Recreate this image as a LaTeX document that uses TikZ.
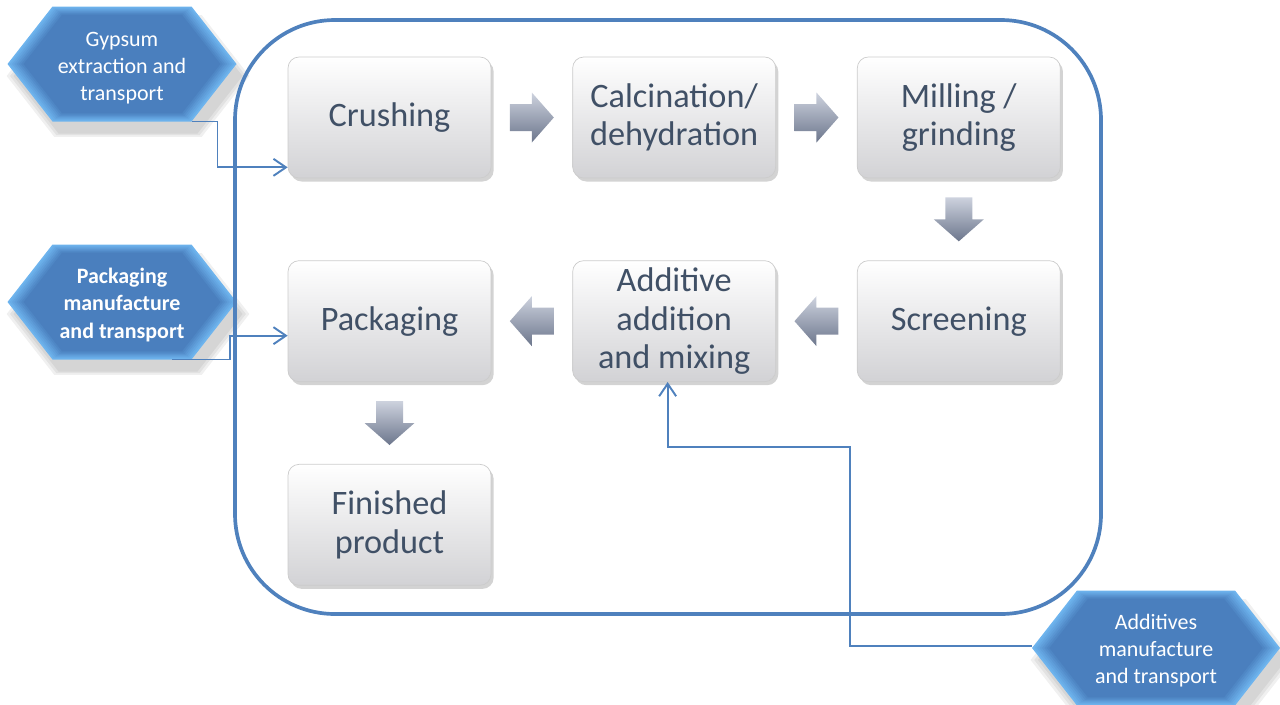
\documentclass[tikz,border=0pt]{standalone}
\usepackage{fontspec}
\setmainfont{Carlito}
\usetikzlibrary{positioning,calc,shadows,backgrounds,arrows.meta}
\definecolor{frameblue}{RGB}{79,129,189}
\definecolor{hexmain}{RGB}{74,127,190}
\definecolor{hexlight}{RGB}{110,180,238}
\definecolor{boxtext}{RGB}{64,80,102}
\definecolor{boxbottom}{RGB}{210,210,213}
\definecolor{arrowlight}{RGB}{205,210,222}
\definecolor{arrowmid}{RGB}{150,158,178}
\definecolor{arrowdark}{RGB}{108,118,140}

% bevelled hexagon round a point: #1 centre, #2 half width
\newcommand{\hexfill}[2]{%
  \begin{scope}[shift={(#1)}]
    \foreach \s in {1.00,1.03,1.06}
      \fill[black,opacity=0.06,shift={(6,12)},scale=\s]
        (-#2,0) -- ({-#2+45},-57.5) -- ({#2-45},-57.5) -- (#2,0) -- ({#2-45},57.5) -- ({-#2+45},57.5) -- cycle;
    \foreach \k in {0,...,7}{
      \pgfmathtruncatemacro{\p}{\k*100/7}
      \pgfmathsetmacro{\sc}{1-0.02*\k}
      \fill[hexmain!\p!hexlight,scale=\sc]
        (-#2,0) -- ({-#2+45},-57.5) -- ({#2-45},-57.5) -- (#2,0) -- ({#2-45},57.5) -- ({-#2+45},57.5) -- cycle;
    }
  \end{scope}}

\tikzset{
  procbox/.style={rectangle, rounded corners=0.22cm, draw=gray!40, line width=0.4pt,
    top color=white, bottom color=boxbottom, minimum width=4.06cm, minimum height=2.42cm,
    align=center, text=boxtext, font=\fontsize{19.5}{22}\selectfont,
    drop shadow={opacity=0.35, shadow xshift=1.5pt, shadow yshift=-2pt}},
  hexlabel/.style={text=white, align=center, font=\fontsize{12.5}{15.4}\selectfont, inner sep=0},
  feed/.style={draw=frameblue, line width=1.1pt, -{Straight Barb[length=0.25cm,width=0.34cm]}},
  blockarr/.pic={\shade[top color=arrowlight, middle color=arrowmid, bottom color=arrowdark]
    (-22,-13.5) -- (0,-13.5) -- (0,-25) -- (22,0) -- (0,25) -- (0,13.5) -- (-22,13.5) -- cycle;}
}

\begin{document}
\begin{tikzpicture}[x=0.02cm, y=-0.02cm, node distance=1.64cm and 1.62cm]
\useasboundingbox (0,0) rectangle (1280,704);

% external inputs
\coordinate (gypc) at (122,64);
\coordinate (pkhc) at (122,302);
\coordinate (adhc) at (1156,648);
\begin{scope}[on background layer]
\hexfill{gypc}{114.5}
\hexfill{pkhc}{114.5}
\hexfill{adhc}{124}
\end{scope}
\node[hexlabel] (gyp) at ($(gypc)+(0,4)$) {Gypsum\\extraction and\\transport};
\node[hexlabel, font=\fontsize{12.5}{15.4}\selectfont\bfseries] (pkh) at ($(pkhc)+(0,3)$) {Packaging\\manufacture\\and transport};
\node[hexlabel] (adh) at ($(adhc)+(0,3)$) {Additives\\manufacture\\and transport};

% system boundary
\draw[frameblue, line width=2.1pt, rounded corners=2cm] (235,20) rectangle (1101,614);

% process steps
\node[procbox] (crush) at (389.5,117.5) {Crushing};
\node[procbox, right=of crush] (calc) {Calcination/\\dehydration};
\node[procbox, right=of calc] (mill) {Milling /\\grinding};
\node[procbox, below=of mill] (screen) {Screening};
\node[procbox, left=of screen] (addit) {Additive\\addition\\and mixing};
\node[procbox, left=of addit] (pack) {Packaging};
\node[procbox, below=of pack] (fin) {Finished\\product};

% flow arrows
\pic at ($(crush.east)!0.5!(calc.west)$) {blockarr};
\pic at ($(calc.east)!0.5!(mill.west)$) {blockarr};
\pic[rotate=-90] at ($(mill.south)!0.5!(screen.north)$) {blockarr};
\pic[rotate=180] at ($(screen.west)!0.5!(addit.east)$) {blockarr};
\pic[rotate=180] at ($(addit.west)!0.5!(pack.east)$) {blockarr};
\pic[rotate=-90] at ($(pack.south)!0.5!(fin.north)$) {blockarr};

% inputs into the system
\coordinate (gin) at ($(crush.south west)+(0,-11)$);
\coordinate (pin) at ($(pack.west)+(0,14.5)$);
\draw[feed] ($(gypc)+(69.5,57.5)$) -- ++(26,0) |- (gin);
\draw[feed] ($(pkhc)+(50,57.5)$) -- ++(58,0) |- (pin);
\draw[feed] ($(adhc)+(-124,-2)$) -| ++(-182,-199) -| ($(addit.south)+(-6.5,0)$);
\end{tikzpicture}
\end{document}
